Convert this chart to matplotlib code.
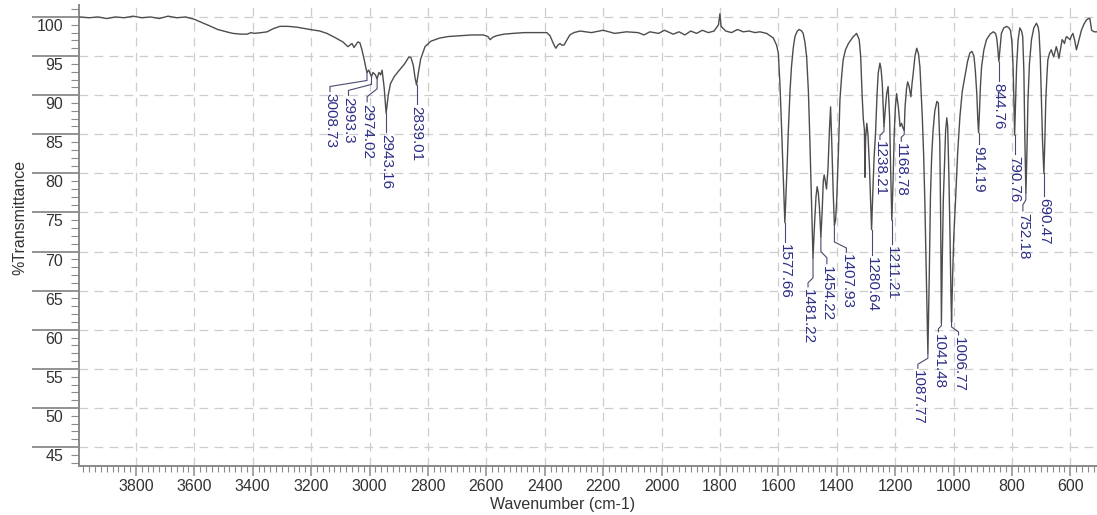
import matplotlib
matplotlib.use("Agg")
import matplotlib.pyplot as plt
import matplotlib.transforms as mtransforms
from matplotlib.ticker import MultipleLocator, FixedLocator

plt.rcParams["font.family"] = ["Liberation Sans", "DejaVu Sans"]

# spectrum (cm-1, %T)
wavenumber = [
    3992, 3960, 3930, 3900, 3870, 3840, 3810, 3780, 3750, 3720, 3690, 3660,
    3630, 3600, 3581, 3550, 3520, 3490, 3468, 3440, 3420, 3405, 3395, 3370,
    3351, 3330, 3307, 3280, 3250, 3204, 3170, 3146, 3120, 3091, 3074, 3060,
    3053, 3040, 3033, 3026, 3018, 3012, 3008.73, 3003, 2998, 2993.3, 2988,
    2980, 2974.02, 2968, 2962, 2957, 2950, 2943.16, 2936, 2928, 2915, 2900,
    2880, 2865, 2858, 2850, 2844, 2839.01, 2833, 2825, 2810, 2790, 2760, 2730,
    2690, 2650, 2610, 2595, 2587, 2578, 2565, 2540, 2509, 2470, 2430, 2393,
    2382, 2376, 2368, 2362, 2355, 2348, 2341, 2334, 2325, 2314, 2300, 2279,
    2240, 2200, 2160, 2120, 2080, 2060, 2040, 2010, 1990, 1960, 1940, 1920,
    1900, 1880, 1860, 1840, 1820, 1805, 1800, 1796, 1780, 1760, 1740, 1720,
    1700, 1680, 1663, 1640, 1617, 1606, 1600, 1594, 1589, 1583, 1577.66, 1570,
    1566, 1560, 1555, 1549, 1543, 1535, 1528, 1520, 1515, 1509, 1503, 1497,
    1492, 1486, 1481.22, 1476, 1471, 1467, 1463, 1459, 1454.22, 1450, 1446,
    1443, 1440, 1435, 1430, 1425, 1421, 1417, 1412, 1407.93, 1404, 1400, 1394,
    1389, 1383, 1378, 1370, 1360, 1345, 1332, 1323, 1318, 1313, 1309, 1305,
    1303.5, 1301, 1297, 1293, 1288, 1284, 1280.64, 1276, 1272, 1267, 1262,
    1258, 1252, 1248, 1244, 1238.21, 1233, 1229, 1224, 1219, 1215, 1211.21,
    1207, 1203, 1199, 1195, 1189, 1183, 1178, 1173, 1168.78, 1166, 1161, 1157,
    1152, 1146, 1142, 1138, 1132, 1126, 1120, 1115, 1107, 1102, 1098, 1093,
    1087.77, 1083, 1079, 1075, 1070, 1064, 1057, 1052, 1047, 1044, 1041.48,
    1038, 1035, 1031, 1027, 1023, 1020, 1016, 1012, 1009, 1006.77, 1003, 999,
    993, 986, 978, 970, 961, 952, 944, 937, 930, 925, 920, 917, 914.19, 911,
    908, 904, 896, 887, 875, 864, 856, 852, 848, 844.76, 841, 836, 828, 818,
    810, 805, 800, 796, 793, 790.76, 788, 784, 779, 773, 767, 763, 759, 756,
    752.18, 749, 745, 740, 733, 725, 716, 710, 707, 703, 699, 695, 690.47, 687,
    684, 680, 677, 671, 665, 661, 657, 652, 648, 643, 639, 634, 628, 624, 620,
    616, 613, 607, 601, 596, 591, 585, 579, 571, 562, 553, 545, 538, 533, 530,
    527, 518, 510,
]
transmittance = [
    100.0, 99.9, 100.0, 99.8, 100.0, 99.9, 100.1, 99.9, 100.0, 99.8, 100.1, 99.9,
    100.0, 99.7, 99.4, 98.9, 98.4, 98.1, 97.9, 97.8, 97.8, 98.0, 97.9, 98.0,
    98.1, 98.5, 98.8, 98.8, 98.7, 98.4, 98.2, 97.9, 97.4, 96.8, 96.2, 96.6,
    96.1, 96.8, 96.7, 95.8, 94.5, 93.4, 92.9, 93.2, 92.8, 92.4, 92.9,
    92.6, 92.1, 92.9, 92.6, 93.2, 91.0, 87.7, 90.0, 91.5, 92.4, 93.1,
    94.0, 94.9, 94.8, 93.8, 92.2, 91.3, 92.8, 94.6, 96.2, 96.9, 97.3, 97.5,
    97.6, 97.7, 97.7, 97.5, 97.1, 97.4, 97.6, 97.8, 97.9, 98.0, 98.0, 98.0,
    97.6, 97.1, 96.4, 96.0, 96.4, 96.6, 96.4, 96.4, 97.0, 97.7, 98.0, 98.2,
    98.0, 98.3, 97.9, 98.1, 98.0, 97.7, 98.1, 97.9, 98.3, 97.8, 98.1, 97.7,
    98.2, 97.9, 98.3, 98.0, 98.2, 99.0, 100.4, 98.8, 98.2, 98.0, 98.4, 98.1,
    98.2, 98.0, 98.1, 97.9, 97.3, 96.4, 95.4, 91.0, 86.0, 79.5, 73.7, 80.8,
    85.2, 90.5, 93.6, 96.0, 97.5, 98.2, 98.4, 98.2, 97.9, 96.8, 94.9, 90.5,
    84.3, 76.0, 69.2, 73.5, 77.0, 78.3, 77.5, 75.5, 71.9, 75.0, 79.0,
    79.8, 79.2, 78.0, 80.5, 85.5, 88.5, 84.0, 77.5, 73.4, 74.0, 76.6, 83.0,
    89.4, 92.5, 94.5, 95.8, 96.6, 97.4, 97.9, 97.1, 95.0, 90.0, 87.0, 85.5,
    79.5, 84.5, 86.4, 85.0, 81.0, 76.5, 72.8, 78.0, 82.0, 85.2, 90.0,
    92.8, 94.1, 93.3, 91.5, 86.0, 88.5, 90.2, 91.1, 87.3, 80.0, 74.0,
    79.0, 85.2, 88.5, 90.2, 88.5, 86.0, 86.4, 85.8, 85.5, 88.5, 90.8, 91.7,
    91.1, 89.8, 91.5, 92.8, 95.0, 96.0, 95.3, 93.6, 87.3, 82.0, 76.0, 67.0,
    57.0, 67.0, 77.0, 82.0, 85.5, 88.0, 89.2, 89.0, 84.0, 74.0, 60.9,
    70.0, 76.5, 80.9, 85.5, 87.1, 86.0, 80.0, 72.0, 65.0, 61.0, 67.0, 72.0,
    76.6, 82.5, 87.3, 90.5, 92.4, 94.3, 95.4, 95.6, 95.0, 93.0, 90.0, 87.0, 85.2, 88.0,
    91.0, 93.6, 95.8, 97.1, 97.8, 98.1, 97.9, 97.3, 95.8, 94.3, 95.8, 97.9, 98.6, 98.8,
    98.6, 98.3, 96.8, 93.6, 89.0, 84.9, 88.5, 93.6, 97.0, 98.6, 98.2, 97.5, 93.0, 85.2,
    77.5, 82.0, 89.4, 94.0, 97.1, 98.6, 99.2, 98.7, 97.9, 95.0, 89.4, 84.0, 80.0, 84.5,
    89.4, 92.5, 94.5, 95.4, 95.8, 95.3, 94.9, 95.6, 96.2, 95.5, 94.7, 95.8, 97.1, 96.9, 96.6,
    97.2, 97.5, 97.3, 97.1, 97.6, 97.9, 97.0, 95.8, 97.0, 98.3, 99.1, 99.6, 99.8, 99.8, 99.0,
    98.3, 98.1, 98.1,
]

peak_wavenumber = [
    3008.73, 2993.3, 2974.02, 2943.16, 2839.01, 1577.66, 1481.22, 1454.22,
    1407.93, 1280.64, 1238.21, 1211.21, 1168.78, 1087.77, 1041.48, 1006.77,
    914.19, 844.76, 790.76, 752.18, 690.47,
]
peak_label = [
    "3008.73", "2993.3", "2974.02", "2943.16", "2839.01", "1577.66", "1481.22",
    "1454.22", "1407.93", "1280.64", "1238.21", "1211.21", "1168.78", "1087.77",
    "1041.48", "1006.77", "914.19", "844.76", "790.76", "752.18", "690.47",
]

x_major = list(range(3800, 599, -200))
y_major = list(range(45, 101, 5))

# leader line shape in pixels: label dx, first bend, second bend, text start
STRAIGHT = (0, 18, 18, 20)
leader = {
    "3008.73": (-37, 8, 14, 20),
    "2993.3": (-23, 8, 14, 20),
    "2974.02": (-10, 10, 18, 24),
    "1481.22": (-5, 20, 25, 30),
    "1454.22": (6, 15, 21, 28),
    "1407.93": (12, 17, 23, 28),
    "1280.64": (0, 22, 22, 26),
    "1238.21": (-4, 5, 9, 14),
    "1211.21": (0, 22, 22, 25),
    "1168.78": (-3, 4, 7, 12),
    "1087.77": (-10, 5, 11, 16),
    "1041.48": (-3, 3, 6, 10),
    "1006.77": (7, 5, 10, 14),
    "914.19": (0, 10, 10, 12),
    "752.18": (-3, 7, 12, 19),
    "690.47": (0, 22, 22, 24),
}

LINE = "#4d4d4d"
AXIS = "#8a8a8a"
GRID = "#cdcdcd"
PEAK = "#2e2e86"
TEXT = "#333333"

fig = plt.figure(figsize=(10.97, 5.15), dpi=100)
ax = fig.add_axes([79 / 1097, 49 / 515, 1018 / 1097, 461 / 515])

ax.plot(wavenumber, transmittance, color=LINE, lw=1.0, zorder=3)

ax.set_xlim(3995, 508.6)
ax.set_ylim(42.58, 101.53)

ax.xaxis.set_major_locator(FixedLocator(x_major))
ax.xaxis.set_minor_locator(MultipleLocator(20))
ax.yaxis.set_major_locator(FixedLocator(y_major))
ax.yaxis.set_minor_locator(MultipleLocator(1))

ax.grid(which="major", color=GRID, linestyle=(0, (7, 5)), linewidth=0.9)
ax.set_axisbelow(True)

for side in ("top", "right"):
    ax.spines[side].set_visible(False)
for side in ("left", "bottom"):
    ax.spines[side].set_color(AXIS)
    ax.spines[side].set_linewidth(1.4)

ax.tick_params(axis="y", which="major", length=33.8, width=1.3, color=AXIS,
               labelleft=False)
ax.tick_params(axis="y", which="minor", length=5.5, width=0.8, color=AXIS)
ax.tick_params(axis="x", which="major", length=7, width=1.1, color=AXIS,
               labelsize=11.5, labelcolor=TEXT, pad=2.5)
ax.tick_params(axis="x", which="minor", length=4, width=0.8, color=AXIS)

# y labels sit just under their long tick lines
ylab_tf = mtransforms.blended_transform_factory(ax.transAxes, ax.transData) + \
    mtransforms.ScaledTranslation(-16 / 100, -2 / 100, fig.dpi_scale_trans)
for v in y_major:
    ax.text(0, v, str(v), transform=ylab_tf, ha="right", va="top",
            fontsize=11.5, color=TEXT)

fig.text(20 / 1097, 1 - 217 / 515, "%Transmittance", rotation=90,
         ha="center", va="center", fontsize=11.5, color=TEXT)
fig.text(563 / 1097, 1 - 505 / 515, "Wavenumber (cm-1)", ha="center",
         va="center", fontsize=11.5, color=TEXT)

# peak annotations, leader drawn in pixel space from the peak tip
inv = ax.transData.inverted()
for pw, lab in zip(peak_wavenumber, peak_label):
    tip = transmittance[wavenumber.index(pw)]
    dx, e1, e2, gap = leader.get(lab, STRAIGHT)
    tx, ty = ax.transData.transform((pw, tip))
    pts = [(tx, ty), (tx, ty - e1), (tx + dx, ty - e2), (tx + dx, ty - gap + 1)]
    data_pts = inv.transform(pts)
    ax.plot(data_pts[:, 0], data_pts[:, 1], color="#4a4a70", lw=0.8,
            zorder=4, clip_on=False)
    lx, ly = inv.transform((tx + dx, ty - gap - 1))
    ax.text(lx, ly, lab, rotation=270, ha="center", va="top",
            fontsize=11, color=PEAK, zorder=5)

fig.savefig("out.png", dpi=100)
